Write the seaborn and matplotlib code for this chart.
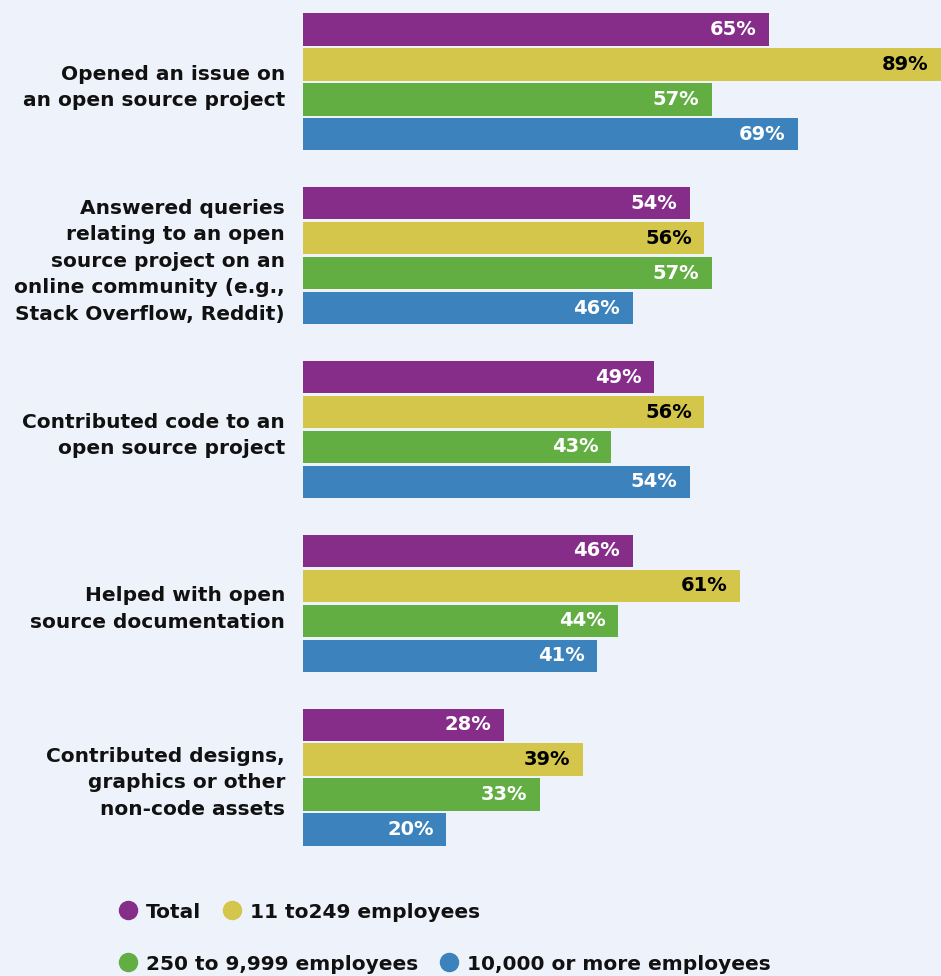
import matplotlib
matplotlib.use("Agg")
import matplotlib.pyplot as plt
from matplotlib.lines import Line2D
import seaborn as sns
import pandas as pd

categories = [
    "Opened an issue on\nan open source project",
    "Answered queries\nrelating to an open\nsource project on an\nonline community (e.g.,\nStack Overflow, Reddit)",
    "Contributed code to an\nopen source project",
    "Helped with open\nsource documentation",
    "Contributed designs,\ngraphics or other\nnon-code assets",
]
series = ["Total", "11 to249 employees", "250 to 9,999 employees", "10,000 or more employees"]
total = [65, 54, 49, 46, 28]
small = [89, 56, 56, 61, 39]
medium = [57, 57, 43, 44, 33]
large = [69, 46, 54, 41, 20]
colors = ["#862D8A", "#D3C64B", "#62AE43", "#3C82BC"]
label_colors = ["white", "black", "white", "white"]

rows = []
for s, vals in zip(series, [total, small, medium, large]):
    for c, v in zip(categories, vals):
        rows.append({"category": c, "series": s, "value": v})
df = pd.DataFrame(rows)

BG = "#EEF2FA"
sns.set_theme(style="white")
plt.rcParams["font.family"] = ["DejaVu Sans"]

fig = plt.figure(figsize=(9.41, 9.76), dpi=100, facecolor=BG)
W, H = 941, 976
ax = fig.add_axes([303 / W, 1 - 847 / H, 1 - 303 / W, (847 - 12) / H])
ax.set_facecolor(BG)

sns.barplot(data=df, y="category", x="value", hue="series", order=categories,
            hue_order=series, palette=colors, orient="h", width=0.805, gap=0.08,
            legend=False, ax=ax, saturation=1, linewidth=0)

half = 0.805 / 2
ax.set_ylim(len(categories) - 1 + half, -half)
ax.set_xlim(0, 89)
for sp in ax.spines.values():
    sp.set_visible(False)
ax.set_xticks([])
ax.set_xlabel("")
ax.set_ylabel("")
ax.tick_params(axis="y", length=0, pad=13)
ax.set_yticks(range(len(categories)))
ax.set_yticklabels(categories, fontsize=14.5, fontweight="bold", color="#111111",
                   linespacing=1.5)

for cont, lc in zip(ax.containers, label_colors):
    texts = ax.bar_label(cont, labels=[f"{int(v)}%" for v in cont.datavalues],
                         padding=-9, color=lc, fontsize=14, fontweight="bold",
                         label_type="edge")
    for t in texts:
        t.set_ha("right")

def handle(c):
    return Line2D([], [], marker="o", linestyle="none", markersize=13,
                  markerfacecolor=c, markeredgecolor=c)

kw = dict(frameon=False, handletextpad=0.4, columnspacing=1.0,
          handlelength=1.0, borderaxespad=0, borderpad=0,
          prop={"weight": "bold", "size": 14.5})
leg1 = fig.legend([handle(colors[0]), handle(colors[1])], series[:2], ncol=2,
                  loc="center left", bbox_to_anchor=(118 / W, 1 - 912 / H), **kw)
leg2 = fig.legend([handle(colors[2]), handle(colors[3])], series[2:], ncol=2,
                  loc="center left", bbox_to_anchor=(118 / W, 1 - 964 / H), **kw)
for leg in (leg1, leg2):
    for t in leg.get_texts():
        t.set_color("#111111")

fig.savefig("out.png", dpi=100, facecolor=BG)
